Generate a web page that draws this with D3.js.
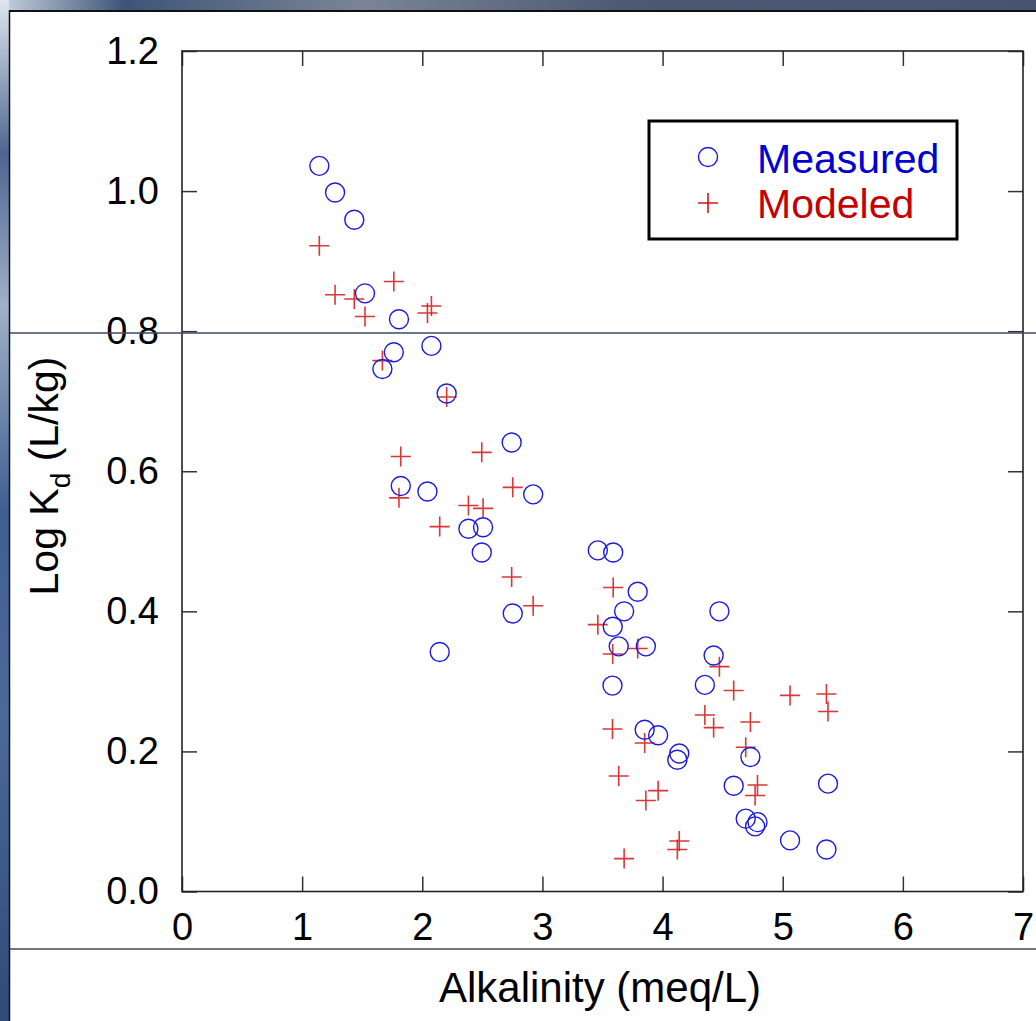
<!DOCTYPE html>
<html>
<head>
<meta charset="utf-8">
<script src="https://cdn.jsdelivr.net/npm/d3@7"></script>
<style>
  body { margin: 0; background: #fff; }
  svg { display: block; }
  text { font-family: "Liberation Sans", Arial, sans-serif; }
</style>
</head>
<body>
<svg width="1036" height="1021"></svg>
<script>
// данные: щёлочность и log Kd (измеренные / модельные)
const alkalinity = [1.143, 1.274, 1.434, 1.523, 1.763, 1.806, 1.821, 1.668, 2.076, 2.043, 2.203,
    2.744, 2.753, 2.923, 2.384, 2.506, 2.495, 2.145, 3.461, 3.589, 3.793, 3.680, 4.473,
    3.585, 3.635, 3.861, 4.425, 3.583, 4.352, 3.851, 3.963, 4.139, 4.123, 4.592, 4.731,
    5.377, 4.692, 4.790, 4.770, 5.061, 5.364];
const measuredKd = [1.036, 0.998, 0.959, 0.854, 0.770, 0.817, 0.579, 0.746, 0.779, 0.571, 0.711,
    0.641, 0.397, 0.567, 0.518, 0.520, 0.484, 0.342, 0.487, 0.484, 0.428, 0.400, 0.400,
    0.378, 0.350, 0.350, 0.337, 0.294, 0.295, 0.231, 0.223, 0.197, 0.188, 0.151, 0.192,
    0.154, 0.104, 0.099, 0.093, 0.073, 0.060];
const modeledKd = [0.922, 0.852, 0.846, 0.821, 0.871, 0.562, 0.621, 0.758, 0.836, 0.826, 0.706,
    0.449, 0.577, 0.408, 0.551, 0.547, 0.627, 0.521, 0.381, 0.434, 0.347, 0.047, 0.321,
    0.339, 0.165, 0.130, 0.234, 0.232, 0.252, 0.212, 0.144, 0.072, 0.060, 0.287, 0.242,
    0.257, 0.206, 0.152, 0.137, 0.280, 0.282];

const xTicks = [0, 1, 2, 3, 4, 5, 6, 7];
const yTicks = [0, 0.2, 0.4, 0.6, 0.8, 1.0, 1.2];
const legendLabels = ["Measured", "Modeled"];

const svg = d3.select("svg");
const FONT = 38;

function drawBackground() {
    const defs = svg.append("defs");
    const gTop = defs.append("linearGradient").attr("id", "topband");
    gTop.append("stop").attr("offset", "0%").attr("stop-color", "#c9d3e0");
    gTop.append("stop").attr("offset", "12%").attr("stop-color", "#3e5478");
    gTop.append("stop").attr("offset", "35%").attr("stop-color", "#7b8596");
    gTop.append("stop").attr("offset", "60%").attr("stop-color", "#4d5a74");
    gTop.append("stop").attr("offset", "100%").attr("stop-color", "#46546f");

    const gLeft = defs.append("linearGradient").attr("id", "leftstrip")
        .attr("x1", 0).attr("y1", 0).attr("x2", 0).attr("y2", 1);
    gLeft.append("stop").attr("offset", "0%").attr("stop-color", "#dfe6ef");
    gLeft.append("stop").attr("offset", "15%").attr("stop-color", "#4d6690");
    gLeft.append("stop").attr("offset", "30%").attr("stop-color", "#9fb0c8");
    gLeft.append("stop").attr("offset", "50%").attr("stop-color", "#3f5f90");
    gLeft.append("stop").attr("offset", "70%").attr("stop-color", "#4b6a98");
    gLeft.append("stop").attr("offset", "100%").attr("stop-color", "#2f4b78");

    svg.append("rect").attr("x", 0).attr("y", 0).attr("width", 1036).attr("height", 10)
        .attr("fill", "url(#topband)");
    svg.append("rect").attr("x", 0).attr("y", 0).attr("width", 9).attr("height", 1021)
        .attr("fill", "url(#leftstrip)");

    // рамка слайда
    svg.append("line").attr("x1", 9).attr("x2", 1036).attr("y1", 11).attr("y2", 11)
        .attr("stroke", "#111").attr("stroke-width", 2);
    svg.append("line").attr("x1", 9.5).attr("x2", 9.5).attr("y1", 10).attr("y2", 1021)
        .attr("stroke", "#111").attr("stroke-width", 1.5);
}

function drawSlideLines() {
    // горизонтальные линии поверх слайда
    [333, 949].forEach(yy => {
        svg.append("line").attr("x1", 10).attr("x2", 1036).attr("y1", yy).attr("y2", yy)
            .attr("stroke", "#3d4a62").attr("stroke-width", 1.3);
    });
}

function drawAxes(scX, scY) {
    const axisStyle = g => {
        g.select(".domain").remove();
        g.selectAll("line").attr("stroke", "#333").attr("stroke-width", 1.5);
        g.selectAll("text").attr("font-size", FONT).attr("fill", "#000")
            .style("font-family", '"Liberation Sans", Arial, sans-serif');
    };

    svg.append("g")
        .attr("transform", `translate(0, ${scY(0)})`)
        .call(d3.axisBottom(scX).tickValues(xTicks).tickSize(-15).tickPadding(22)
            .tickFormat(d3.format("d")))
        .call(axisStyle);

    svg.append("g")
        .attr("transform", `translate(0, ${scY(1.2)})`)
        .call(d3.axisTop(scX).tickValues(xTicks).tickSize(-15).tickFormat(""))
        .call(axisStyle);

    svg.append("g")
        .attr("transform", `translate(${scX(0)}, 0)`)
        .call(d3.axisLeft(scY).tickValues(yTicks).tickSize(-15).tickPadding(23)
            .tickFormat(d3.format(".1f")))
        .call(axisStyle);

    svg.append("g")
        .attr("transform", `translate(${scX(7)}, 0)`)
        .call(d3.axisRight(scY).tickValues(yTicks).tickSize(-15).tickFormat(""))
        .call(axisStyle);

    // рамка графика
    svg.append("rect")
        .attr("x", scX(0)).attr("y", scY(1.2))
        .attr("width", scX(7) - scX(0)).attr("height", scY(0) - scY(1.2))
        .attr("fill", "none").attr("stroke", "#222").attr("stroke-width", 1.6);

    // подписи осей
    svg.append("text")
        .attr("x", 600).attr("y", 1002)
        .attr("text-anchor", "middle").attr("font-size", 42)
        .text("Alkalinity (meq/L)");

    const yl = svg.append("text")
        .attr("transform", "translate(58, 476) rotate(-90)")
        .attr("text-anchor", "middle").attr("font-size", 41);
    yl.append("tspan").text("Log K");
    yl.append("tspan").attr("font-size", 28).attr("dy", 12).text("d");
    yl.append("tspan").attr("dy", -12).text(" (L/kg)");
}

function drawPoints(scX, scY) {
    const measured = alkalinity.map((a, i) => ({x: a, y: measuredKd[i]}));
    const modeled = alkalinity.map((a, i) => ({x: a, y: modeledKd[i]}));

    svg.selectAll(".cross")
        .data(modeled)
        .enter()
        .append("path")
        .attr("class", "cross")
        .attr("d", "M-10,0H10M0,-10V10")
        .attr("transform", d => `translate(${scX(d.x)}, ${scY(d.y)})`)
        .attr("stroke", "#d41515").attr("stroke-width", 1.6).attr("stroke-opacity", 0.85)
        .attr("fill", "none");

    svg.selectAll(".dot")
        .data(measured)
        .enter()
        .append("circle")
        .attr("class", "dot")
        .attr("r", 9.5)
        .attr("cx", d => scX(d.x))
        .attr("cy", d => scY(d.y))
        .attr("fill", "none")
        .attr("stroke", "#1b1be0").attr("stroke-width", 1.4);
}

function drawLegend() {
    const lg = svg.append("g");
    lg.append("rect").attr("x", 649).attr("y", 121).attr("width", 308).attr("height", 118)
        .attr("fill", "#fff").attr("stroke", "#000").attr("stroke-width", 3);
    lg.append("circle").attr("cx", 708).attr("cy", 157).attr("r", 9.5)
        .attr("fill", "none").attr("stroke", "#1b1be0").attr("stroke-width", 1.4);
    lg.append("path").attr("d", "M-10,0H10M0,-10V10").attr("transform", "translate(708, 203)")
        .attr("stroke", "#d41515").attr("stroke-width", 1.6).attr("fill", "none");
    lg.append("text").attr("x", 757).attr("y", 173).attr("font-size", 41)
        .attr("fill", "#0000d0").text(legendLabels[0]);
    lg.append("text").attr("x", 757).attr("y", 218).attr("font-size", 41)
        .attr("fill", "#c40000").text(legendLabels[1]);
}

drawBackground();

const scX = d3.scaleLinear().domain([0, 7]).range([182, 1023]);
const scY = d3.scaleLinear().domain([0, 1.2]).range([891.5, 51]);

drawAxes(scX, scY);
drawSlideLines();
drawPoints(scX, scY);
drawLegend();
</script>
</body>
</html>
